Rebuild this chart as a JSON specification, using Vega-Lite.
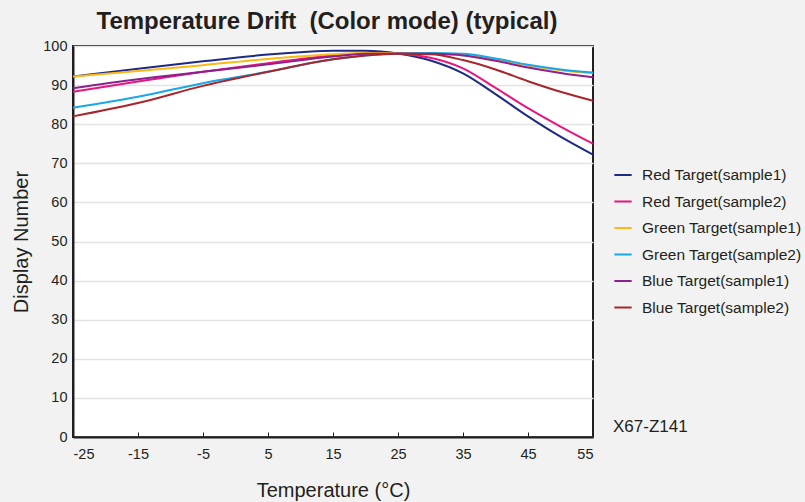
{
  "$schema": "https://vega.github.io/schema/vega-lite/v6.json",
  "width": 520,
  "height": 391,
  "autosize": {"type": "none"},
  "padding": {"left": 73, "top": 46, "right": 212, "bottom": 65},
  "background": "#f2f2f2",
  "title": {"text": "Temperature Drift\u00a0 (Color mode) (typical)", "fontSize": 24, "fontWeight": "bold", "font": "Liberation Sans", "color": "#231f20", "anchor": "middle", "offset": 4, "dx": -6},
  "config": {
    "view": {"fill": "white", "stroke": "#231f20", "strokeWidth": 2},
    "font": "Liberation Sans",
    "axisX": {
      "grid": false,
      "domainColor": "#231f20", "domainWidth": 2,
      "tickColor": "#231f20", "tickSize": -5, "tickWidth": 1,
      "labelFontSize": 14.5, "labelColor": "#231f20", "labelPadding": 15,
      "labelExpr": "'' + datum.value", "labelOverlap": false,
      "titleFontSize": 20, "titleFontWeight": "normal", "titleColor": "#231f20", "titlePadding": 20
    },
    "axisY": {
      "grid": true, "gridColor": "#e3e3e3", "gridWidth": 1.5,
      "domainColor": "#231f20", "domainWidth": 2,
      "tickSize": 0, "labelPadding": 6, "labelOverlap": false,
      "labelFontSize": 14.5, "labelColor": "#231f20",
      "titleFontSize": 20, "titleFontWeight": "normal", "titleColor": "#231f20", "titlePadding": 11
    }
  },
  "datasets": {
    "curves": [
      {"t": -25, "v": 92.2, "s": "Red Target(sample1)"},
      {"t": -15, "v": 94.2, "s": "Red Target(sample1)"},
      {"t": -5, "v": 96.1, "s": "Red Target(sample1)"},
      {"t": 5, "v": 97.8, "s": "Red Target(sample1)"},
      {"t": 10, "v": 98.4, "s": "Red Target(sample1)"},
      {"t": 15, "v": 98.8, "s": "Red Target(sample1)"},
      {"t": 20, "v": 98.8, "s": "Red Target(sample1)"},
      {"t": 25, "v": 98.1, "s": "Red Target(sample1)"},
      {"t": 30, "v": 96.3, "s": "Red Target(sample1)"},
      {"t": 35, "v": 93.0, "s": "Red Target(sample1)"},
      {"t": 40, "v": 87.7, "s": "Red Target(sample1)"},
      {"t": 45, "v": 82.0, "s": "Red Target(sample1)"},
      {"t": 50, "v": 76.8, "s": "Red Target(sample1)"},
      {"t": 55, "v": 72.2, "s": "Red Target(sample1)"},

      {"t": -25, "v": 88.3, "s": "Red Target(sample2)"},
      {"t": -15, "v": 90.9, "s": "Red Target(sample2)"},
      {"t": -5, "v": 93.4, "s": "Red Target(sample2)"},
      {"t": 5, "v": 95.6, "s": "Red Target(sample2)"},
      {"t": 15, "v": 97.6, "s": "Red Target(sample2)"},
      {"t": 20, "v": 98.1, "s": "Red Target(sample2)"},
      {"t": 25, "v": 98.0, "s": "Red Target(sample2)"},
      {"t": 30, "v": 97.0, "s": "Red Target(sample2)"},
      {"t": 35, "v": 94.3, "s": "Red Target(sample2)"},
      {"t": 40, "v": 89.3, "s": "Red Target(sample2)"},
      {"t": 45, "v": 84.1, "s": "Red Target(sample2)"},
      {"t": 50, "v": 79.4, "s": "Red Target(sample2)"},
      {"t": 55, "v": 75.0, "s": "Red Target(sample2)"},

      {"t": -25, "v": 92.2, "s": "Green Target(sample1)"},
      {"t": -15, "v": 93.6, "s": "Green Target(sample1)"},
      {"t": -5, "v": 95.1, "s": "Green Target(sample1)"},
      {"t": 5, "v": 96.7, "s": "Green Target(sample1)"},
      {"t": 15, "v": 97.9, "s": "Green Target(sample1)"},
      {"t": 20, "v": 98.2, "s": "Green Target(sample1)"},
      {"t": 25, "v": 98.2, "s": "Green Target(sample1)"},
      {"t": 30, "v": 98.1, "s": "Green Target(sample1)"},
      {"t": 35, "v": 97.8, "s": "Green Target(sample1)"},
      {"t": 40, "v": 96.6, "s": "Green Target(sample1)"},
      {"t": 45, "v": 95.0, "s": "Green Target(sample1)"},
      {"t": 50, "v": 93.8, "s": "Green Target(sample1)"},
      {"t": 55, "v": 93.0, "s": "Green Target(sample1)"},

      {"t": -25, "v": 84.2, "s": "Green Target(sample2)"},
      {"t": -15, "v": 87.0, "s": "Green Target(sample2)"},
      {"t": -5, "v": 90.5, "s": "Green Target(sample2)"},
      {"t": 5, "v": 93.4, "s": "Green Target(sample2)"},
      {"t": 15, "v": 96.6, "s": "Green Target(sample2)"},
      {"t": 20, "v": 97.6, "s": "Green Target(sample2)"},
      {"t": 25, "v": 98.1, "s": "Green Target(sample2)"},
      {"t": 30, "v": 98.2, "s": "Green Target(sample2)"},
      {"t": 35, "v": 98.0, "s": "Green Target(sample2)"},
      {"t": 40, "v": 96.8, "s": "Green Target(sample2)"},
      {"t": 45, "v": 95.2, "s": "Green Target(sample2)"},
      {"t": 50, "v": 94.0, "s": "Green Target(sample2)"},
      {"t": 55, "v": 93.2, "s": "Green Target(sample2)"},

      {"t": -25, "v": 89.2, "s": "Blue Target(sample1)"},
      {"t": -15, "v": 91.5, "s": "Blue Target(sample1)"},
      {"t": -5, "v": 93.4, "s": "Blue Target(sample1)"},
      {"t": 5, "v": 95.3, "s": "Blue Target(sample1)"},
      {"t": 15, "v": 97.3, "s": "Blue Target(sample1)"},
      {"t": 20, "v": 98.0, "s": "Blue Target(sample1)"},
      {"t": 25, "v": 98.1, "s": "Blue Target(sample1)"},
      {"t": 30, "v": 98.0, "s": "Blue Target(sample1)"},
      {"t": 35, "v": 97.6, "s": "Blue Target(sample1)"},
      {"t": 40, "v": 96.2, "s": "Blue Target(sample1)"},
      {"t": 45, "v": 94.5, "s": "Blue Target(sample1)"},
      {"t": 50, "v": 93.1, "s": "Blue Target(sample1)"},
      {"t": 55, "v": 92.0, "s": "Blue Target(sample1)"},

      {"t": -25, "v": 82.0, "s": "Blue Target(sample2)"},
      {"t": -15, "v": 85.4, "s": "Blue Target(sample2)"},
      {"t": -5, "v": 89.8, "s": "Blue Target(sample2)"},
      {"t": 5, "v": 93.4, "s": "Blue Target(sample2)"},
      {"t": 15, "v": 96.6, "s": "Blue Target(sample2)"},
      {"t": 20, "v": 97.6, "s": "Blue Target(sample2)"},
      {"t": 25, "v": 98.0, "s": "Blue Target(sample2)"},
      {"t": 30, "v": 97.9, "s": "Blue Target(sample2)"},
      {"t": 35, "v": 96.4, "s": "Blue Target(sample2)"},
      {"t": 40, "v": 94.0, "s": "Blue Target(sample2)"},
      {"t": 45, "v": 91.0, "s": "Blue Target(sample2)"},
      {"t": 50, "v": 88.3, "s": "Blue Target(sample2)"},
      {"t": 55, "v": 86.0, "s": "Blue Target(sample2)"}
    ],
    "note": [{"label": "X67-Z141"}]
  },
  "layer": [
    {
      "data": {"name": "curves"},
      "mark": {"type": "line", "interpolate": "monotone", "strokeWidth": 2},
      "encoding": {
        "x": {
          "field": "t", "type": "quantitative",
          "scale": {"domain": [-25, 55], "nice": false, "zero": false},
          "axis": {"values": [-25, -15, -5, 5, 15, 25, 35, 45, 55], "title": "Temperature (°C)"}
        },
        "y": {
          "field": "v", "type": "quantitative",
          "scale": {"domain": [0, 100], "nice": false},
          "axis": {"values": [0, 10, 20, 30, 40, 50, 60, 70, 80, 90, 100], "title": "Display Number"}
        },
        "color": {
          "field": "s", "type": "nominal",
          "sort": ["Red Target(sample1)", "Red Target(sample2)", "Green Target(sample1)", "Green Target(sample2)", "Blue Target(sample1)", "Blue Target(sample2)"],
          "scale": {
            "domain": ["Red Target(sample1)", "Red Target(sample2)", "Green Target(sample1)", "Green Target(sample2)", "Blue Target(sample1)", "Blue Target(sample2)"],
            "range": ["#1e2a86", "#e5177f", "#fcb813", "#1aa7e8", "#8e1f8f", "#a8262b"]
          },
          "legend": {
            "title": null, "orient": "none", "legendX": 540, "legendY": 119,
            "symbolType": "stroke", "symbolStrokeWidth": 2, "symbolSize": 300,
            "labelFontSize": 15.5, "labelColor": "#231f20", "labelOffset": 9, "labelLimit": 300,
            "rowPadding": 7.5, "padding": 0
          }
        }
      }
    },
    {
      "data": {"name": "note"},
      "mark": {"type": "text", "align": "left", "baseline": "bottom", "dx": 20, "dy": -1, "fontSize": 17, "color": "#231f20"},
      "encoding": {
        "x": {"datum": 55, "type": "quantitative", "axis": {"values": [-25, -15, -5, 5, 15, 25, 35, 45, 55], "title": "Temperature (°C)"}},
        "y": {"datum": 0, "type": "quantitative", "axis": {"values": [0, 10, 20, 30, 40, 50, 60, 70, 80, 90, 100], "title": "Display Number"}},
        "text": {"field": "label"}
      }
    }
  ]
}
